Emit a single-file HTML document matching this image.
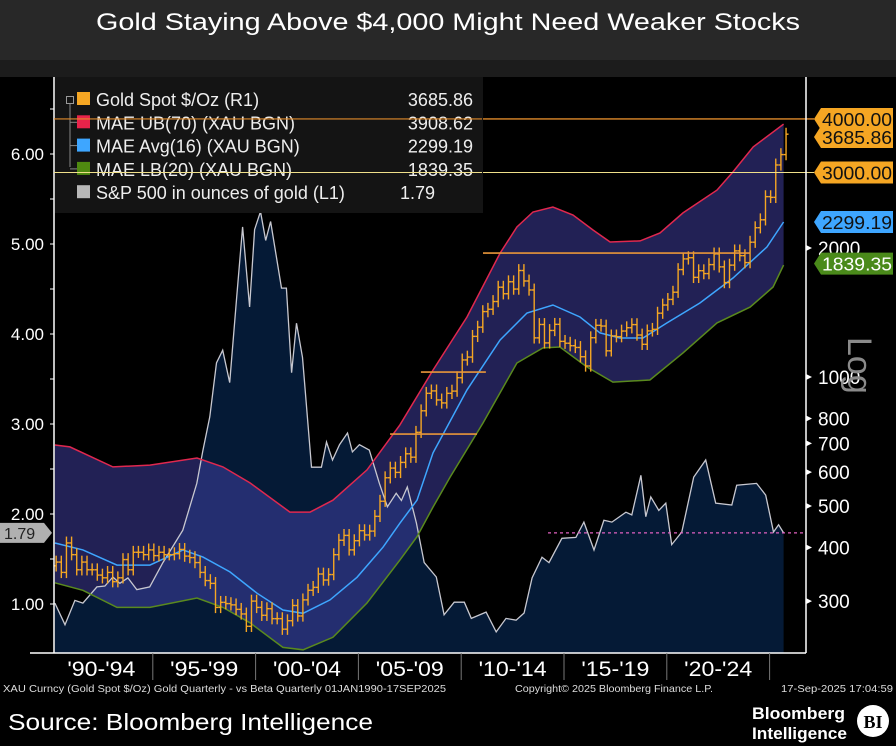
<!DOCTYPE html>
<html><head><meta charset="utf-8">
<style>
html,body{margin:0;padding:0;background:#000;}
svg{display:block;font-family:"Liberation Sans",sans-serif;}
</style></head>
<body>
<svg id="chart" width="896" height="746" viewBox="0 0 896 746" xmlns="http://www.w3.org/2000/svg">
<rect x="0" y="0" width="896" height="746" fill="#000"/>
<rect x="0" y="0" width="896" height="60" fill="#282828"/>
<rect x="0" y="60" width="896" height="17" fill="#1c1c1c"/>
<text x="448" y="30" fill="#fff" font-size="24" text-anchor="middle" textLength="704" lengthAdjust="spacingAndGlyphs">Gold Staying Above $4,000 Might Need Weaker Stocks</text>
<g id="plot"></g>
<g id="overlay"></g>
</svg>
<script>
// ---- data ----
const goldStartYear = 1990;
const goldClose = [370,350,410,385, 355,370,355,355, 345,340,350,333, 340,375,355,390, 390,385,395,383,
 390,385,385,387, 396,382,379,369, 350,335,330,290, 298,296,294,287, 280,262,300,290,
 278,288,273,273, 258,270,293,277, 302,318,323,347, 336,346,385,416, 427,395,415,438,
 428,437,473,513, 582,613,599,632, 662,650,743,834, 916,928,884,870, 916,927,996,1096,
 1113,1244,1307,1421, 1439,1500,1620,1564, 1668,1604,1772,1675, 1596,1234,1326,1201, 1284,1327,1211,1199,
 1183,1172,1115,1061, 1235,1320,1315,1151, 1247,1242,1280,1303, 1325,1253,1192,1281, 1292,1409,1472,1517,
 1577,1781,1886,1898, 1708,1770,1743,1829, 1937,1807,1661,1824, 1969,1919,1849,2063, 2230,2327,2635,2625,
 3124,3303,3686];
const spT = [1990.24,1990.73,1991.21,1991.6,1992.28,1992.67,1993.06,1993.4,1993.79,1994.22,1994.85,1995.49,1996.46,1997.14,1997.43,1997.77,1998.1,1998.4,1998.74,1999.08,1999.37,1999.71,1999.95,2000.24,2000.49,2000.73,2001.26,2001.5,2001.75,2001.99,2002.28,2002.72,2003.2,2003.45,2003.74,2004.08,2004.47,2004.71,2005.05,2005.53,2006.02,2006.41,2006.84,2007.09,2007.38,2007.82,2008.2,2008.79,2009.17,2009.66,2010.15,2010.49,2011.21,2011.7,2012.18,2012.67,2013.06,2013.45,2013.93,2014.27,2014.9,2015.58,2015.97,2016.46,2016.94,2017.33,2018.01,2018.3,2018.74,2018.98,2019.22,2019.61,2019.95,2020.24,2020.73,2021.31,2021.89,2022.38,2023.16,2023.4,2024.37,2024.81,2025.19,2025.44,2025.68];
const spV = [1.01,0.77,1.04,1.01,1.19,1.2,1.3,1.23,1.29,1.16,1.19,1.46,1.82,2.34,2.7,3.08,3.68,3.82,3.46,4.41,5.19,4.3,5.16,5.36,5.04,5.25,4.51,4.51,3.57,4.12,3.74,2.52,2.52,2.8,2.6,2.77,2.9,2.69,2.77,2.71,2.34,2.08,2.23,2.15,2.3,1.9,1.46,1.3,0.88,1.02,1.02,0.84,0.91,0.69,0.84,0.82,0.9,1.29,1.52,1.46,1.73,1.74,1.91,1.6,1.93,1.91,2.02,1.99,2.43,1.97,2.19,2.04,2.12,1.66,1.8,2.41,2.6,2.12,2.1,2.32,2.34,2.21,1.8,1.88,1.79];
const ubT = [1990.24,1990.97,1993.06,1994.86,1997.15,1998.41,1999.73,2001.67,2002.65,2003.76,2005.42,2007.02,2008.63,2010.28,2011.89,2012.71,2013.49,2014.46,2015.44,2016.41,2017.24,2018.7,2019.67,2020.79,2022.44,2023.22,2024.2,2025.68];
const ubV = [694,687,617,623,647,617,566,484,484,516,607,773,1038,1380,1946,2239,2427,2493,2388,2203,2065,2077,2168,2415,2730,3009,3442,3892];
const avgT = [1990.24,1991.6,1993.26,1994.86,1996.47,1997.44,1998.75,2000.07,2001.33,2002.31,2003.62,2004.93,2006.2,2007.02,2007.85,2008.63,2010.28,2011.89,2013.2,2014.46,2015.78,2016.75,2017.72,2018.84,2020.01,2021.61,2023.22,2024.87,2025.68];
const avgV = [410,395,364,364,395,380,351,313,286,281,302,341,401,456,516,665,933,1220,1410,1472,1380,1267,1233,1233,1337,1488,1702,2011,2300];
const lbT = [1990.24,1991.6,1993.26,1994.86,1997.15,1998.41,1999.73,2001.33,2002.31,2003.76,2005.42,2007.02,2007.85,2008.63,2009.46,2011.06,2012.71,2013.98,2014.8,2016.12,2017.38,2019.18,2020.79,2022.44,2024.05,2025.17,2025.68];
const lbV = [331,318,290,290,305,290,267,234,231,247,297,374,424,497,584,781,1078,1169,1175,1055,973,984,1138,1337,1456,1622,1824];
const resStart = [2011.06,2008.04,2006.54];
const resEnd = [2024.05,2011.2,2010.77];
const resPrice = [1946,1027,736];
const leftTicks = [1,2,3,4,5,6];
const rightTicks = [300,400,500,600,700,800,1000,2000];
const periodLabels = ["'90-'94","'95-'99","'00-'04","'05-'09","'10-'14","'15-'19","'20-'24"];
const periodStarts = [1990,1995,2000,2005,2010,2015,2020];
const legendNames = ["Gold Spot $/Oz (R1)","MAE UB(70) (XAU BGN)","MAE Avg(16) (XAU BGN)","MAE LB(20) (XAU BGN)","S&P 500 in ounces of gold (L1)"];
const legendValues = ["3685.86","3908.62","2299.19","1839.35","1.79"];
const lastSp = 1.79;

// ---- scales ----
const PL=54, PR=806, PB=653, PT=77;
function xT(t){return 50+20.56*(t-1990);}
function yL(v){return 694-90*v;}
function yR(p){return 377-428.6*Math.log10(p/1000);}
const NS="http://www.w3.org/2000/svg";
const plot=document.getElementById('plot');
const ov=document.getElementById('overlay');
function mk(tag,attrs,parent){const e=document.createElementNS(NS,tag);for(const k in attrs)e.setAttribute(k,attrs[k]);(parent||plot).appendChild(e);return e;}
function pts(T,V,fy){return T.map((t,i)=>xT(t).toFixed(1)+','+fy(V[i]).toFixed(1));}

let spPts=pts(spT,spV,yL);
let area=mk('polygon',{points:xT(spT[0]).toFixed(1)+','+PB+' '+spPts.join(' ')+' '+xT(spT[spT.length-1]).toFixed(1)+','+PB,fill:'#051a36'});



let ubP=pts(ubT,ubV,yR), lbP=pts(lbT,lbV,yR);
let band=mk('polygon',{points:ubP.join(' ')+' '+lbP.slice().reverse().join(' '),fill:'rgba(68,66,170,0.5)'});



let spLine=mk('polyline',{points:spPts.join(' '),fill:'none',stroke:'#c8c8d0','stroke-width':1.3});



let ubL=mk('polyline',{points:ubP.join(' '),fill:'none',stroke:'#e0284f','stroke-width':1.5});


let avL=mk('polyline',{points:pts(avgT,avgV,yR).join(' '),fill:'none',stroke:'#3ea6ff','stroke-width':1.5});


let lbL=mk('polyline',{points:lbP.join(' '),fill:'none',stroke:'#5a8a1e','stroke-width':1.5});



for(let i=0;i<goldClose.length;i++){
  const c=goldClose[i], o=i>0?goldClose[i-1]:c*0.98;
  const hi=Math.max(o,c)*1.035, lo=Math.min(o,c)*0.97;
  const x=xT(goldStartYear+0.3+i/4);
  const g=mk('g',{stroke:'#f5a623','stroke-width':1.4});
  
  
  mk('line',{x1:x,x2:x,y1:yR(hi),y2:yR(lo)},g);
  mk('line',{x1:x-2.5,x2:x,y1:yR(o),y2:yR(o)},g);
  mk('line',{x1:x,x2:x+2.5,y1:yR(c),y2:yR(c)},g);
}
for(let i=0;i<resPrice.length;i++){
  const l=mk('line',{x1:xT(resStart[i]),x2:xT(resEnd[i]),y1:yR(resPrice[i]),y2:yR(resPrice[i]),stroke:'#e8963a','stroke-width':1.6});
  
  
}
let dl=mk('line',{x1:548,x2:PR,y1:yL(lastSp),y2:yL(lastSp),stroke:'#e060c0','stroke-width':1.2,'stroke-dasharray':'3,3'});


let l4=mk('line',{x1:PL,x2:PR+8,y1:yR(4000),y2:yR(4000),stroke:'#e08a2a','stroke-width':1.3});


let l3=mk('line',{x1:PL,x2:PR+8,y1:yR(3000),y2:yR(3000),stroke:'#f0e08a','stroke-width':1.1});



mk('line',{x1:PL,x2:PL,y1:PT,y2:PB,stroke:'#fff','stroke-width':1.5});
mk('line',{x1:PR,x2:PR,y1:PT,y2:PB,stroke:'#fff','stroke-width':1.5});
mk('line',{x1:30,x2:PR,y1:PB,y2:PB,stroke:'#fff','stroke-width':1.5});

for(let v=1;v<=6.5;v+=0.5){mk('line',{x1:PL-4,x2:PL,y1:yL(v),y2:yL(v),stroke:'#fff','stroke-width':1});}
leftTicks.forEach(v=>{
  const t=mk('text',{x:44,y:yL(v)+6,fill:'#fff','font-size':17,'text-anchor':'end'});
  t.textContent=v.toFixed(2);
  
  
});
let lt=mk('g',{});


const ly=yL(lastSp);
mk('polygon',{points:`0,${ly-10} 44,${ly-10} 52,${ly} 44,${ly+10} 0,${ly+10}`,fill:'#b0b0b0'},lt);
let ltt=mk('text',{x:4,y:ly+6,fill:'#222','font-size':16},lt);ltt.textContent=lastSp.toFixed(2);

rightTicks.forEach(v=>{
  mk('polygon',{points:`${PR},${yR(v)-3} ${PR+6},${yR(v)} ${PR},${yR(v)+3}`,fill:'#fff'});
  const t=mk('text',{x:PR+12,y:yR(v)+7,fill:'#fff','font-size':19});
  t.textContent=v;
  
  
});
let lg=mk('text',{x:0,y:0,fill:'#8a8a8a','font-size':34,transform:'translate(848,337) rotate(90)'});
lg.textContent='Log';



function tag(val,label,bg,fg,name,py){
  const y=py!==undefined?py:yR(val);
  const g=mk('g',{},ov);
  
  
  mk('polygon',{points:`${PR+8},${y} ${PR+15},${y-11} 893,${y-11} 893,${y+11} ${PR+15},${y+11}`,fill:bg},g);
  const t=mk('text',{x:PR+16,y:y+7,fill:fg,'font-size':18,textLength:70,lengthAdjust:'spacingAndGlyphs'},g);
  t.textContent=label;
}
tag(3685.86,'3685.86','#f5a623','#111','gold-last-tag',yR(4000)+18);
tag(4000,'4000.00','#f5a623','#111','level-4000-tag');
tag(3000,'3000.00','#f5a623','#111','level-3000-tag');
tag(2299.19,'2299.19','#3ea6ff','#111','avg-last-tag');
tag(1839.35,'1839.35','#4a8a1a','#fff','lb-last-tag');

periodStarts.forEach((s,i)=>{
  const x=xT(s+5);
  mk('line',{x1:x,x2:x,y1:PB,y2:680,stroke:'#777','stroke-width':1});
  const t=mk('text',{x:xT(s+2.5),y:676,fill:'#fff','font-size':21,'text-anchor':'middle',textLength:68,lengthAdjust:'spacingAndGlyphs'});
  t.textContent=periodLabels[i];
  
  
});

const lgBox=mk('g',{},ov);


mk('rect',{x:PL+1,y:PT,width:428,height:136,fill:'#141414'},lgBox);
const cols=['#f5a623','#e8234a','#3ea6ff','#4f8a10','#b8b8b8'];
mk('line',{x1:70,x2:70,y1:104,y2:167,stroke:'#888','stroke-width':1},lgBox);
mk('rect',{x:66.5,y:96.5,width:7,height:7,fill:'#141414',stroke:'#999'},lgBox);
for(let i=0;i<5;i++){
  const y=99+i*23.3;
  const e=mk('g',{},lgBox);
  
  
  if(i>0&&i<4) mk('line',{x1:70,x2:77,y1:y,y2:y,stroke:'#888'},e);
  mk('rect',{x:77,y:y-7,width:13,height:13,fill:cols[i]},e);
  const t=mk('text',{x:96,y:y+7,fill:'#eee','font-size':18},e);t.textContent=legendNames[i];
  const v=mk('text',{x:i<4?473:400,y:y+7,fill:'#eee','font-size':18,'text-anchor':i<4?'end':'start'},e);v.textContent=legendValues[i];
}
mk('line',{x1:PL,x2:482,y1:yR(4000),y2:yR(4000),stroke:'#e08a2a','stroke-width':1.2},ov);
mk('line',{x1:PL,x2:482,y1:yR(3000),y2:yR(3000),stroke:'#f0e08a','stroke-width':1},ov);

const f1=mk('text',{x:3,y:692,fill:'#ddd','font-size':10.5,textLength:443,lengthAdjust:'spacingAndGlyphs'},ov);
f1.textContent='XAU Curncy (Gold Spot  $/Oz) Gold Quarterly - vs Beta  Quarterly 01JAN1990-17SEP2025';


const f2=mk('text',{x:515,y:692,fill:'#ddd','font-size':10.5,textLength:198,lengthAdjust:'spacingAndGlyphs'},ov);
f2.textContent='Copyright© 2025 Bloomberg Finance L.P.';


const f3=mk('text',{x:893,y:692,fill:'#ddd','font-size':10.5,'text-anchor':'end',textLength:112,lengthAdjust:'spacingAndGlyphs'},ov);
f3.textContent='17-Sep-2025 17:04:59';


const src=mk('text',{x:8,y:730,fill:'#fff','font-size':23,textLength:365,lengthAdjust:'spacingAndGlyphs'},ov);
src.textContent='Source: Bloomberg Intelligence';


const lo=mk('g',{},ov);


let b1=mk('text',{x:752,y:719,fill:'#fff','font-size':17,'font-weight':'bold',textLength:93,lengthAdjust:'spacingAndGlyphs'},lo);b1.textContent='Bloomberg';
let b2=mk('text',{x:752,y:739,fill:'#fff','font-size':17,'font-weight':'bold',textLength:95,lengthAdjust:'spacingAndGlyphs'},lo);b2.textContent='Intelligence';
mk('circle',{cx:873,cy:721,r:16,fill:'#fff'},lo);
let b3=mk('text',{x:873,y:728,fill:'#000','font-size':18,'font-weight':'bold','text-anchor':'middle','font-family':'Liberation Serif, serif'},lo);b3.textContent='BI';
</script>
</body></html>
